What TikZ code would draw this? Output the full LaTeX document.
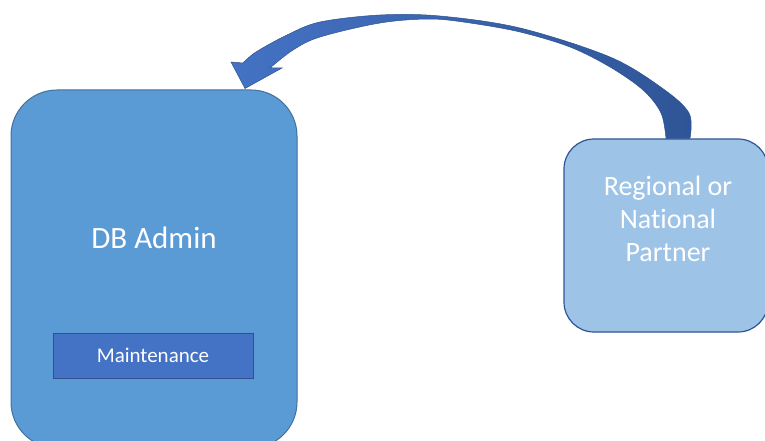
\documentclass[tikz,border=0pt]{standalone}
\usepackage{fontspec}
\setmainfont[RawFeature=-liga]{Carlito}
\usetikzlibrary{calc}
\definecolor{adminfill}{HTML}{5B9BD5}
\definecolor{adminline}{HTML}{41719C}
\definecolor{maintfill}{HTML}{4472C4}
\definecolor{maintline}{HTML}{2F528F}
\definecolor{partnerfill}{HTML}{9DC3E6}
\definecolor{partnerline}{HTML}{2F5597}
\definecolor{arrowlight}{HTML}{4472C4}
\definecolor{arrowdark}{HTML}{2F5597}
\tikzset{
  bigbox/.style={draw=adminline, line width=1pt, fill=adminfill,
    rounded corners=46pt, minimum width=286pt, minimum height=358pt,
    inner sep=0pt},
  partnerbox/.style={draw=partnerline, line width=1.2pt, fill=partnerfill,
    rounded corners=30pt, minimum width=204pt, minimum height=193pt,
    inner sep=0pt},
  taskbox/.style={draw=maintline, line width=1pt, fill=maintfill,
    minimum width=200pt, minimum height=45pt, inner sep=0pt,
    text=white, font=\fontsize{21}{25}\selectfont},
  boxlabel/.style={text=white, align=center, inner sep=0pt},
  bigarrow/.style={draw=maintline, line width=0.5pt,
    left color=arrowlight, right color=arrowdark, shading angle=90},
}
\begin{document}
\begin{tikzpicture}[x=1pt, y=-1pt]
\useasboundingbox (0,0) rectangle (765,441);
\begin{scope}
\clip (0,0) rectangle (765,441);
% admin panel with its task strip
\node[bigbox] (admin) at (154,269) {};
\node[boxlabel, font=\fontsize{31}{37}\selectfont] (adminlbl) at (154,238) {DB Admin};
\node[taskbox] (maint) at (153,355.5) {Maintenance};
% partner panel
\node[partnerbox] (partner) at (666,235.5) {};
\node[boxlabel, font=\fontsize{28}{33}\selectfont] (partnerlbl) at (668,218.5)
  {Regional or\\National\\Partner};
% curved block arrow from the partner panel back to the admin panel
\coordinate (tailout) at ($(partner.north)+(24,0)$);
\coordinate (tailin) at ($(partner.north)+(0,0)$);
\coordinate (tip) at ($(admin.north)+(91,-1)$);
\path[bigarrow]
  plot[smooth, tension=0.55] coordinates {(tailout) (689,113) (662,88) (610,57)
    (520,28) (440,16) (380,15) (320,22) (287,35) (256,52) (243,63)}
  -- (231,62) -- (tip) -- (282,68) -- (270,68)
  -- plot[smooth, tension=0.55] coordinates {(270,68) (293,50) (320,37) (380,23)
    (430,19) (470,23) (520,32) (570,47) (610,67) (643,90) (661,113) (tailin)}
  -- cycle;
\end{scope}
\end{tikzpicture}
\end{document}
